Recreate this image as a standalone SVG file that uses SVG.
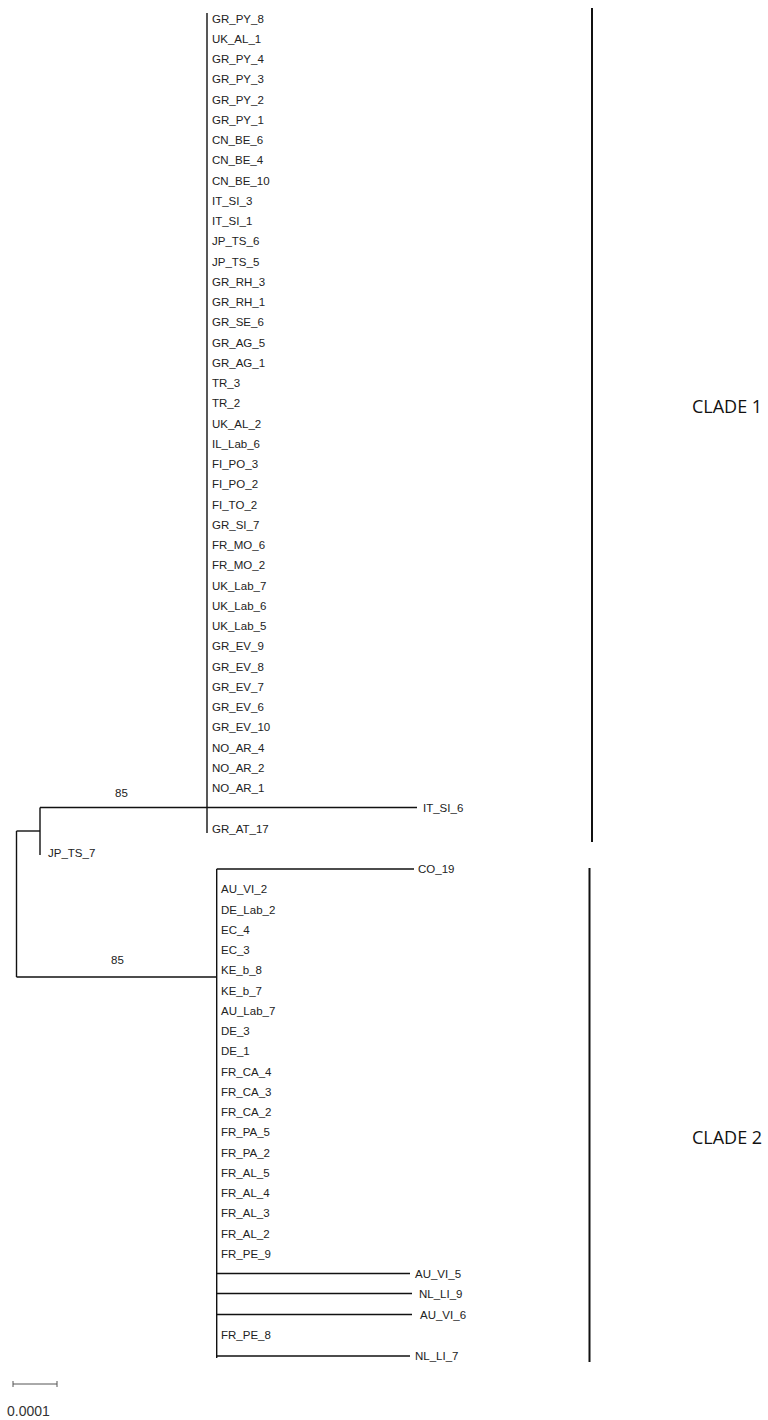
<svg xmlns="http://www.w3.org/2000/svg" width="768" height="1420" viewBox="0 0 768 1420">
<style>
.t{font-family:"Liberation Sans",Arial,sans-serif;font-size:11.5px;fill:#222}
.e{fill:none;stroke:#111;stroke-width:1.4}
.c{font-family:"Open Sans","Noto Sans",sans-serif;font-size:18px;fill:#111}
.b{fill:none;stroke:#111;stroke-width:2}
.s{font-family:"Liberation Sans",Arial,sans-serif;font-size:14px;fill:#333}
</style>
<rect width="768" height="1420" fill="#fff"/>
<g id="connectors">
<path class="e" d="M207,13V833"/>
<path class="e" d="M40,807.5H417"/>
<path class="e" d="M40,807.5V855"/>
<path class="e" d="M16.5,831H40"/>
<path class="e" d="M16.5,831V977"/>
<path class="e" d="M16.5,977H216.7"/>
<path class="e" d="M216.7,869V1358"/>
<path class="e" d="M216.7,869H414"/>
<path class="e" d="M216.7,1273.5H410"/>
<path class="e" d="M216.7,1293.5H412"/>
<path class="e" d="M216.7,1314.5H412"/>
<path class="e" d="M216.7,1356H410"/>
</g>
<g id="clade1-leaves">
<text class="t" x="212" y="22.5">GR_PY_8</text>
<text class="t" x="212" y="42.7">UK_AL_1</text>
<text class="t" x="212" y="63">GR_PY_4</text>
<text class="t" x="212" y="83.2">GR_PY_3</text>
<text class="t" x="212" y="103.5">GR_PY_2</text>
<text class="t" x="212" y="123.7">GR_PY_1</text>
<text class="t" x="212" y="144">CN_BE_6</text>
<text class="t" x="212" y="164.2">CN_BE_4</text>
<text class="t" x="212" y="184.5">CN_BE_10</text>
<text class="t" x="212" y="204.7">IT_SI_3</text>
<text class="t" x="212" y="225">IT_SI_1</text>
<text class="t" x="212" y="245.2">JP_TS_6</text>
<text class="t" x="212" y="265.5">JP_TS_5</text>
<text class="t" x="212" y="285.7">GR_RH_3</text>
<text class="t" x="212" y="306">GR_RH_1</text>
<text class="t" x="212" y="326.2">GR_SE_6</text>
<text class="t" x="212" y="346.5">GR_AG_5</text>
<text class="t" x="212" y="366.7">GR_AG_1</text>
<text class="t" x="212" y="387">TR_3</text>
<text class="t" x="212" y="407.2">TR_2</text>
<text class="t" x="212" y="427.5">UK_AL_2</text>
<text class="t" x="212" y="447.7">IL_Lab_6</text>
<text class="t" x="212" y="468">FI_PO_3</text>
<text class="t" x="212" y="488.2">FI_PO_2</text>
<text class="t" x="212" y="508.5">FI_TO_2</text>
<text class="t" x="212" y="528.7">GR_SI_7</text>
<text class="t" x="212" y="549">FR_MO_6</text>
<text class="t" x="212" y="569.2">FR_MO_2</text>
<text class="t" x="212" y="589.5">UK_Lab_7</text>
<text class="t" x="212" y="609.7">UK_Lab_6</text>
<text class="t" x="212" y="630">UK_Lab_5</text>
<text class="t" x="212" y="650.2">GR_EV_9</text>
<text class="t" x="212" y="670.5">GR_EV_8</text>
<text class="t" x="212" y="690.7">GR_EV_7</text>
<text class="t" x="212" y="711">GR_EV_6</text>
<text class="t" x="212" y="731.2">GR_EV_10</text>
<text class="t" x="212" y="751.5">NO_AR_4</text>
<text class="t" x="212" y="771.7">NO_AR_2</text>
<text class="t" x="212" y="792">NO_AR_1</text>
<text class="t" x="423" y="811.5">IT_SI_6</text>
<text class="t" x="212" y="832.5">GR_AT_17</text>
</g>
<g id="outgroup">
<text class="t" x="48" y="857">JP_TS_7</text>
</g>
<g id="clade2-leaves">
<text class="t" x="418" y="873">CO_19</text>
<text class="t" x="221" y="893.2">AU_VI_2</text>
<text class="t" x="221" y="913.5">DE_Lab_2</text>
<text class="t" x="221" y="933.7">EC_4</text>
<text class="t" x="221" y="954">EC_3</text>
<text class="t" x="221" y="974.2">KE_b_8</text>
<text class="t" x="221" y="994.5">KE_b_7</text>
<text class="t" x="221" y="1014.7">AU_Lab_7</text>
<text class="t" x="221" y="1035">DE_3</text>
<text class="t" x="221" y="1055.2">DE_1</text>
<text class="t" x="221" y="1075.5">FR_CA_4</text>
<text class="t" x="221" y="1095.7">FR_CA_3</text>
<text class="t" x="221" y="1116">FR_CA_2</text>
<text class="t" x="221" y="1136.2">FR_PA_5</text>
<text class="t" x="221" y="1156.5">FR_PA_2</text>
<text class="t" x="221" y="1176.7">FR_AL_5</text>
<text class="t" x="221" y="1197">FR_AL_4</text>
<text class="t" x="221" y="1217.2">FR_AL_3</text>
<text class="t" x="221" y="1237.5">FR_AL_2</text>
<text class="t" x="221" y="1257.7">FR_PE_9</text>
<text class="t" x="415" y="1277.5">AU_VI_5</text>
<text class="t" x="419" y="1297.5">NL_LI_9</text>
<text class="t" x="420" y="1318.5">AU_VI_6</text>
<text class="t" x="221" y="1339">FR_PE_8</text>
<text class="t" x="415" y="1360">NL_LI_7</text>
</g>
<g id="support">
<text class="t" x="115" y="797">85</text>
<text class="t" x="111" y="964">85</text>
</g>
<g id="clade1">
<path class="b" d="M592,8V842"/>
<text class="c" x="692" y="413">CLADE 1</text>
</g>
<g id="clade2">
<path class="b" d="M589.5,868V1362"/>
<text class="c" x="692" y="1144">CLADE 2</text>
</g>
<g id="scale">
<path d="M13,1384H57M13,1381V1387M57,1381V1387" fill="none" stroke="#555" stroke-width="1"/>
<text class="s" x="7" y="1416">0.0001</text>
</g>
</svg>
